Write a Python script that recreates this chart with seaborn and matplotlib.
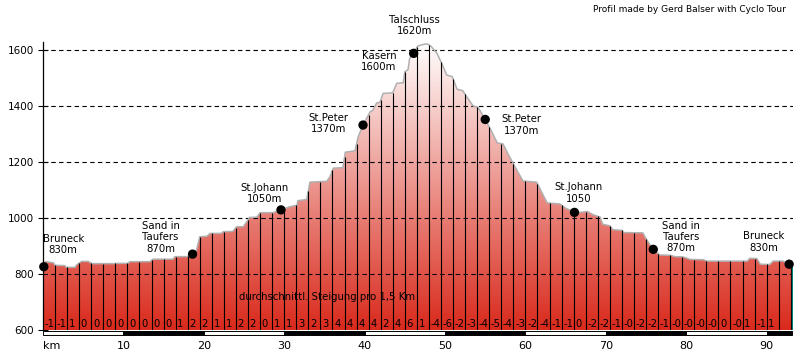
import numpy as np
import matplotlib
matplotlib.use("Agg")
import matplotlib.pyplot as plt
import matplotlib.transforms as mtransforms
from matplotlib.colors import LinearSegmentedColormap
from matplotlib.patches import Rectangle
import seaborn as sns

# elevation profile (km, metres)
km = [0.0, 0.3, 1.3, 1.5, 2.7, 2.9, 4.0, 4.2, 4.8, 5.6, 6.1, 8.7, 9.2, 10.6, 10.8,
      13.3, 13.7, 16.2, 16.4, 17.9, 18.6, 19.1, 19.5, 20.4, 20.8, 22.2, 22.4, 23.6,
      24.1, 24.9, 25.5, 25.7, 26.6, 27.0, 28.6, 29.6, 30.1, 30.7, 31.6, 31.7, 32.8,
      33.2, 35.3, 35.7, 36.1, 37.3, 37.6, 38.8, 39.2, 39.8, 40.7, 41.0, 41.5, 41.9,
      42.3, 43.5, 44.0, 44.8, 45.0, 45.4, 45.6, 46.1, 46.6, 47.3, 47.8, 48.3, 49.0,
      49.6, 50.2, 50.9, 51.5, 52.2, 52.7, 53.5, 54.1, 55.0, 55.6, 56.5, 57.2, 57.8,
      58.7, 59.7, 61.4, 62.1, 62.7, 64.3, 65.0, 66.1, 66.8, 67.7, 68.4, 69.3, 69.6,
      70.5, 70.9, 72.0, 72.2, 74.6, 75.1, 75.9, 76.7, 78.0, 78.6, 79.6, 80.5, 82.1,
      82.6, 87.6, 87.9, 88.8, 89.2, 90.4, 90.8, 92.0, 92.8, 93.2]
elev = [832, 844, 840, 831, 830, 824, 824, 833, 845, 845, 837, 837, 838, 838, 844,
        844, 853, 853, 862, 862, 871, 886, 933, 935, 945, 945, 951, 952,
        969, 969, 993, 1002, 1003, 1019, 1019, 1029, 1034, 1040, 1046, 1062, 1066,
        1128, 1131, 1148, 1178, 1180, 1235, 1240, 1290, 1332, 1380, 1384, 1411, 1413,
        1445, 1447, 1481, 1483, 1522, 1530, 1570, 1590, 1614, 1620, 1622, 1612, 1588,
        1552, 1511, 1505, 1460, 1455, 1433, 1400, 1396, 1352, 1320, 1268, 1265, 1231,
        1183, 1132, 1128, 1088, 1054, 1050, 1035, 1022, 1020, 1023, 1012, 1003, 978,
        972, 958, 956, 948, 947, 921, 888, 868, 867, 862, 861, 852, 851,
        846, 846, 856, 855, 835, 834, 846, 846, 836, 835]

# average gradient (%) per 1.5 km section
section_km = 1.5
gradients = ["-1", "-1", "1", "0", "0", "0", "0", "0", "0", "0", "0", "1", "2", "2",
             "1", "1", "2", "2", "0", "1", "1", "3", "2", "3", "4", "4", "4", "4",
             "2", "4", "6", "1", "-4", "-6", "-2", "-3", "-4", "-5", "-4", "-3",
             "-2", "-4", "-1", "-1", "0", "-2", "-2", "-1", "-0", "-2", "-2", "-1",
             "-0", "-0", "-0", "-0", "0", "-0", "1", "-1", "1"]

# places along the route
place_km = [0.1, 18.6, 29.6, 39.8, 46.1, 55.0, 66.1, 75.9, 92.8]
place_elev = [826, 871, 1029, 1332, 1588, 1352, 1020, 888, 835]
place_text = ["Bruneck\n830m", "Sand in\nTaufers\n870m", "St.Johann\n1050m",
              "St.Peter\n1370m", "Kasern\n1600m", "St.Peter\n1370m",
              "St.Johann\n1050", "Sand in\nTaufers\n870m", "Bruneck\n830m"]
peak_km, peak_elev, peak_text = 47.8, 1622, "Talschluss\n1620m"

y_ticks = [600, 800, 1000, 1200, 1400, 1600]
x_ticks = [0, 10, 20, 30, 40, 50, 60, 70, 80, 90]
x_labels = ["km", "10", "20", "30", "40", "50", "60", "70", "80", "90"]

# label offsets in points (label centre relative to the dot)
label_off = [(14, 16), (-23, 12), (-12, 12), (-25, 1), (-25, -6), (26, -4),
             (3, 14), (20, 9), (-18, 16)]

sns.set_style("white")
plt.rcParams["font.family"] = ["DejaVu Sans"]
plt.rcParams.update({"text.color": "black", "xtick.color": "black",
                     "ytick.color": "black", "axes.labelcolor": "black"})

fig = plt.figure(figsize=(7.96, 3.56), dpi=100)
ax = fig.add_axes([43 / 796, 26 / 356, 750 / 796, 288 / 356])
y0, y1 = 600, 1628.6
x1 = 93.28

# gradient fill clipped to the profile
poly = ax.fill_between(km, elev, y0, facecolor="none", edgecolor="none")
cmap = LinearSegmentedColormap.from_list("prof", ["#D92A1C", "#FFFFFF"])
grad = np.linspace(0, 1, 256).reshape(-1, 1)
im = ax.imshow(grad, extent=[0, km[-1], y0, 1632], origin="lower",
               aspect="auto", cmap=cmap, zorder=1)
im.set_clip_path(poly.get_paths()[0], transform=ax.transData)

# outline of the profile
sns.lineplot(x=km, y=elev, ax=ax, color="#B0B0B0", lw=1.1, zorder=3)

# section lines every 1.5 km
sec_x = np.arange(0, km[-1], section_km)
sec_top = np.interp(sec_x, km, elev)
ax.vlines(sec_x[1:], y0, sec_top[1:], color="black", lw=0.8, zorder=4)
ax.vlines(km[-1], y0, elev[-1], color="#008080", lw=0.9, zorder=4)

# gradient numbers
for xs, g in zip(sec_x, gradients):
    ax.annotate(g, (xs, y0), xytext=(1.2, 2.4), textcoords="offset points",
                ha="left", va="baseline", fontsize=7.2, zorder=5)

ax.text(35.3, 718, "durchschnittl. Steigung pro 1,5 Km", ha="center",
        va="center", fontsize=7.3, zorder=5)

# dashed grid lines
for yt in y_ticks[1:]:
    ax.axhline(yt, color="black", lw=0.8, ls=(0, (4, 3)), zorder=2.5)

# place dots and labels
sns.scatterplot(x=place_km, y=place_elev, ax=ax, color="black", s=45,
                edgecolor="none", zorder=6, clip_on=False)
for xk, ye, t, off in zip(place_km, place_elev, place_text, label_off):
    ax.annotate(t, (xk, ye), xytext=off, textcoords="offset points",
                ha="center", va="center", fontsize=7.3, linespacing=1.15,
                zorder=6)
ax.annotate(peak_text, (peak_km, peak_elev), xytext=(-9, 13),
            textcoords="offset points", ha="center", va="center",
            fontsize=7.3, linespacing=1.15, zorder=6)

# km scale bar under the axis
trans = mtransforms.blended_transform_factory(ax.transData, ax.transAxes)
for i, start in enumerate(x_ticks):
    end = min(start + 10, km[-1])
    ax.add_patch(Rectangle((start, -0.019), end - start, 0.0165,
                           transform=trans, clip_on=False,
                           facecolor="black" if i % 2 else "white",
                           edgecolor="black", lw=0.7))

ax.set_xlim(0, x1)
ax.set_ylim(y0, y1)
ax.set_yticks(y_ticks)
ax.set_xticks(x_ticks)
ax.set_xticklabels(x_labels)
ax.get_xticklabels()[0].set_horizontalalignment("left")
ax.tick_params(axis="y", direction="inout", length=6.5, width=0.8, pad=3,
               labelsize=7.5, left=True, color="black", labelcolor="black")
ax.tick_params(axis="x", length=0, pad=8, labelsize=8, labelcolor="black")
for s in ["top", "right", "bottom"]:
    ax.spines[s].set_visible(False)
ax.spines["left"].set_color("black")
ax.spines["left"].set_linewidth(0.9)
ax.spines["left"].set_zorder(7)
ax.set_xlabel("")
ax.set_ylabel("")

fig.text(786 / 796, 1 - 10 / 356, "Profil made by Gerd Balser with Cyclo Tour",
         ha="right", va="center", fontsize=6.5)

fig.savefig("out.png", dpi=100)
